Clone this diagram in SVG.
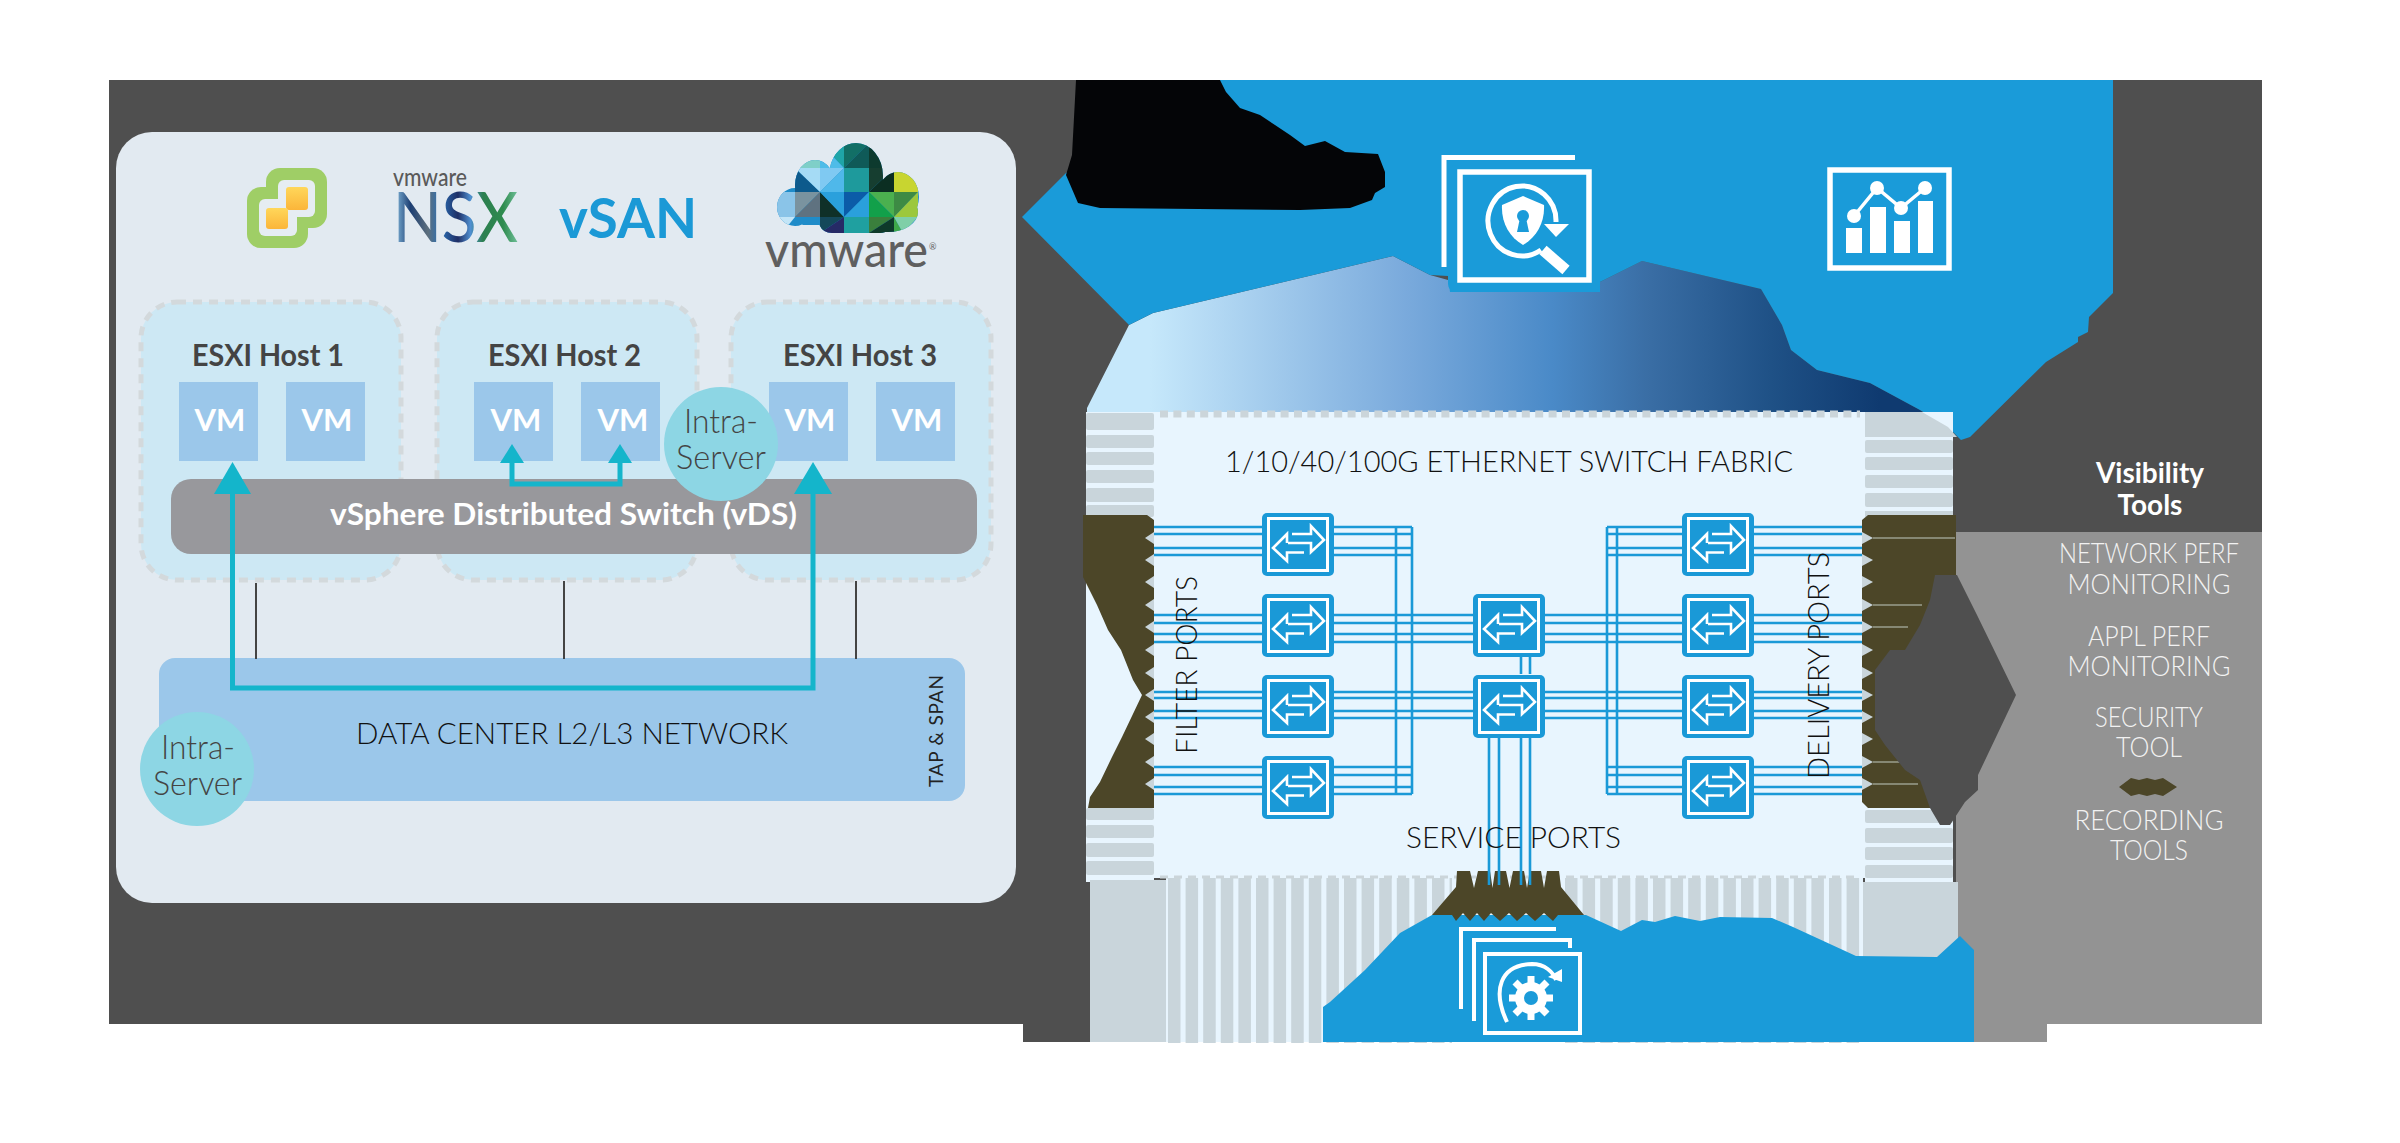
<svg xmlns="http://www.w3.org/2000/svg" xmlns:xlink="http://www.w3.org/1999/xlink" width="2400" height="1143" viewBox="0 0 2400 1143">
<style>
text{font-family:"Lato","Liberation Sans",sans-serif}
.host{fill:#cde8f4;stroke:#d3d9dc;stroke-width:5;stroke-dasharray:9 7}
.vm{fill:#9bc7ea}
.vmt{fill:#fff;font-size:31px;font-weight:700;text-anchor:middle}
.ht{fill:#444;font-size:30px;font-weight:700}
.wire{stroke:#14b5cb;stroke-width:5;fill:none}
.head{fill:#14b5cb}
.stub{stroke:#444;stroke-width:2}
.intra{fill:#8dd6e4}
.it{fill:#444;font-size:33px;font-weight:300}
.blk{fill:#111;font-size:30px;font-weight:300}
.lst{fill:#f2f2f2;font-size:28px;font-weight:300;text-anchor:middle}
.rib{fill:#c9d5db}
.br{fill:#4c4628}
.tooth{fill:#c9d5db}
.ln{stroke:#1a99d7;stroke-width:2.6;fill:none}
.sep{stroke:#9a9f8e;stroke-width:1.5}
.swo{fill:#1a99d7}
.swi{fill:#1a99d7;stroke:#fff;stroke-width:3}
.swa{fill:none;stroke:#fff;stroke-width:2.6}
.ic{fill:none;stroke:#fff}
.icf{fill:#fff}
</style>
<defs>
<linearGradient id="fade" gradientUnits="userSpaceOnUse" x1="1150" y1="0" x2="1880" y2="0">
<stop offset="0" stop-color="#c6e8fb"/><stop offset=".35" stop-color="#7aaadc"/><stop offset=".55" stop-color="#4a8ac8"/><stop offset=".68" stop-color="#3a6ea5"/><stop offset=".85" stop-color="#1f5186"/><stop offset="1" stop-color="#0f3a70"/>
</linearGradient>
<linearGradient id="nsx" gradientUnits="userSpaceOnUse" x1="393" y1="0" x2="518" y2="0">
<stop offset="0" stop-color="#8cc4e6"/><stop offset=".14" stop-color="#1d3f73"/><stop offset=".28" stop-color="#5d6f7d"/><stop offset=".38" stop-color="#2a6fb5"/><stop offset=".52" stop-color="#1f2f66"/><stop offset=".62" stop-color="#4f8fd0"/><stop offset=".72" stop-color="#2c7f50"/><stop offset=".88" stop-color="#2e8b4e"/><stop offset="1" stop-color="#70c09a"/>
</linearGradient>
<linearGradient id="yl" x1="0" y1="0" x2="0" y2="1"><stop offset="0" stop-color="#ffd75a"/><stop offset="1" stop-color="#fbb53a"/></linearGradient>
<clipPath id="cloud">
<ellipse cx="856" cy="176" rx="27" ry="33"/><ellipse cx="815" cy="185" rx="20" ry="25"/><ellipse cx="795" cy="207" rx="18" ry="19"/><ellipse cx="898" cy="197" rx="21" ry="25"/><rect x="800" y="190" width="100" height="35" rx="4"/><rect x="818" y="195" width="76" height="38" rx="14"/><ellipse cx="888" cy="212" rx="30" ry="20"/>
</clipPath>
<g id="sw">
<rect class="swo" x="0" y="0" width="72" height="63" rx="5"/>
<rect class="swi" x="6.500" y="5.500" width="59" height="52"/>
<path class="swa" d="M30,21H49V13L62,27 49,39V30H26"/>
<path class="swa" d="M42,39.500H25V48L11,35 25,21V30"/>
</g>
</defs>

<g id="background">
<path fill="#4f4f4f" d="M109,80H2262V1024H2047V1042H1023V1024H109Z"/>
<path fill="#939393" d="M1956,532H2262V1024H2047V1042H1956Z"/>
</g>

<g id="platform-panel">
<rect x="116" y="132" width="900" height="771" rx="36" fill="#e2eaf1"/>
<g id="logo-vcenter">
<rect x="266" y="168" width="61" height="60" rx="14" fill="#9fce66"/>
<rect x="247" y="187" width="61" height="61" rx="14" fill="#9fce66"/>
<rect x="278" y="180" width="37" height="37" rx="6" fill="#e6edf2"/>
<rect x="259" y="199" width="38" height="37" rx="6" fill="#e6edf2"/>
<rect x="286" y="187" width="22" height="23" rx="3" fill="url(#yl)"/>
<rect x="266" y="208" width="22" height="21" rx="3" fill="url(#yl)"/>
</g>
<g id="logo-nsx">
<text x="393" y="186" font-size="25" font-weight="500" fill="#5a5a5a" textLength="74" lengthAdjust="spacingAndGlyphs">vmware</text>
<text x="393" y="242" font-size="70" font-weight="500" fill="url(#nsx)" textLength="125" lengthAdjust="spacingAndGlyphs">NSX</text>
</g>
<text id="logo-vsan" x="559" y="238" font-size="56" font-weight="700" fill="#1b99d6" textLength="138" lengthAdjust="spacingAndGlyphs">vSAN</text>
<g id="logo-vmware">
<g clip-path="url(#cloud)">
<rect x="770" y="140" width="155" height="95" fill="#1f8cc9"/>
<polygon fill="#1fa5a8" points="820,143 844,143 844,168"/><polygon fill="#4fbce8" points="820,143 844,168 820,168"/>
<polygon fill="#126f66" points="844,143 869,143 844,168"/><polygon fill="#0f5a58" points="869,143 869,168 844,168"/>
<polygon fill="#0d3a2e" points="869,143 894,143 894,168 869,168"/>
<polygon fill="#7fcfc8" points="795,143 820,143 820,168 795,168"/>
<polygon fill="#0d5a8c" points="795,168 820,192 795,192"/><polygon fill="#a5dbf5" points="795,168 820,168 820,192"/>
<polygon fill="#7fc9f2" points="820,168 844,168 820,192"/><polygon fill="#4fb8ea" points="844,168 844,192 820,192"/>
<polygon fill="#1e9a9c" points="844,168 869,168 869,192 844,192"/>
<polygon fill="#163e30" points="869,168 894,168 869,192"/><polygon fill="#0b2e22" points="894,168 894,192 869,192"/>
<polygon fill="#c8d530" points="894,168 918,168 918,192 894,192"/>
<polygon fill="#8ac4e8" points="777,192 795,192 795,217 777,217"/>
<polygon fill="#7a939f" points="795,192 820,192 795,217"/><polygon fill="#5f7280" points="820,192 820,217 795,217"/>
<polygon fill="#0f3028" points="820,192 844,217 820,217"/><polygon fill="#2aa0dc" points="820,192 844,192 844,217"/>
<polygon fill="#0b5ca8" points="844,192 869,192 844,217"/><polygon fill="#2aa0dc" points="869,192 869,217 844,217"/>
<polygon fill="#4bb04f" points="869,192 894,192 894,217"/><polygon fill="#12a04a" points="869,192 894,217 869,217"/>
<polygon fill="#3d8b44" points="894,192 918,192 894,217"/><polygon fill="#9cc83c" points="918,192 918,217 894,217"/>
<polygon fill="#c3e5f7" points="777,217 795,217 782,233 777,233"/>
<polygon fill="#14485a" points="820,217 844,217 820,233"/><polygon fill="#262a66" points="844,217 844,233 820,233"/>
<polygon fill="#1fa0a0" points="844,217 869,217 869,233 844,233"/>
<polygon fill="#3a7f3c" points="869,217 894,217 869,233"/><polygon fill="#0e3a2a" points="894,217 894,233 869,233"/>
<polygon fill="#3ea84a" points="894,217 903,233 894,233"/><polygon fill="#7fcfa8" points="894,217 918,217 903,233"/>
</g>
<text x="765" y="267" font-size="49" font-weight="500" fill="#5f5f5f" textLength="163" lengthAdjust="spacingAndGlyphs">vmware</text>
<text x="929" y="250" font-size="9" fill="#5f5f5f">®</text>
</g>
</g>

<g id="host-1"><rect class="host" x="141" y="302" width="260" height="278" rx="36"/><text class="ht" x="192" y="366" textLength="152" lengthAdjust="spacingAndGlyphs">ESXI Host 1</text></g>
<g id="host-2"><rect class="host" x="437" y="302" width="260" height="278" rx="36"/><text class="ht" x="488" y="366" textLength="153" lengthAdjust="spacingAndGlyphs">ESXI Host 2</text></g>
<g id="host-3"><rect class="host" x="731" y="302" width="260" height="278" rx="36"/><text class="ht" x="783" y="366" textLength="154" lengthAdjust="spacingAndGlyphs">ESXI Host 3</text></g>
<g id="vm-1a"><rect class="vm" x="179" y="382" width="79" height="79"/><text class="vmt" x="220" y="431">VM</text></g>
<g id="vm-1b"><rect class="vm" x="286" y="382" width="79" height="79"/><text class="vmt" x="327" y="431">VM</text></g>
<g id="vm-2a"><rect class="vm" x="474" y="382" width="79" height="79"/><text class="vmt" x="516" y="431">VM</text></g>
<g id="vm-2b"><rect class="vm" x="581" y="382" width="79" height="79"/><text class="vmt" x="623" y="431">VM</text></g>
<g id="vm-3a"><rect class="vm" x="769" y="382" width="79" height="79"/><text class="vmt" x="810" y="431">VM</text></g>
<g id="vm-3b"><rect class="vm" x="876" y="382" width="79" height="79"/><text class="vmt" x="917" y="431">VM</text></g>
<g id="vds"><rect x="171" y="479" width="806" height="75" rx="20" fill="#98989c"/><text x="330" y="525" fill="#fff" font-size="31" font-weight="700" textLength="467" lengthAdjust="spacingAndGlyphs">vSphere Distributed Switch (vDS)</text></g>
<g id="dc-network"><rect x="159" y="658" width="806" height="143" rx="16" fill="#9bc7ea"/><text class="blk" x="356" y="744" textLength="432" lengthAdjust="spacingAndGlyphs">DATA CENTER L2/L3 NETWORK</text>
<text transform="translate(943,787) rotate(-90)" fill="#222" font-size="19" textLength="112">TAP &amp; SPAN</text></g>

<g id="left-connectors">
<line class="stub" x1="256" y1="583" x2="256" y2="659"/><line class="stub" x1="564" y1="581" x2="564" y2="659"/><line class="stub" x1="856" y1="581" x2="856" y2="659"/>
<path class="wire" d="M232.500,494V688H813V494"/>
<polygon class="head" points="232.500,462 214,494 251,494"/><polygon class="head" points="813,462 794,494 832,494"/>
<path class="wire" d="M512,463V484H620V463"/>
<polygon class="head" points="512,444 500,463 524,463"/><polygon class="head" points="620,444 608,463 632,463"/>
</g>
<g id="intra-upper"><circle class="intra" cx="721" cy="444" r="57"/><text class="it" x="684" y="433" textLength="74" lengthAdjust="spacingAndGlyphs">Intra-</text><text class="it" x="676" y="469" textLength="90" lengthAdjust="spacingAndGlyphs">Server</text></g>
<g id="intra-lower"><circle class="intra" cx="197" cy="769" r="57"/><text class="it" x="161" y="759" textLength="74" lengthAdjust="spacingAndGlyphs">Intra-</text><text class="it" x="153" y="795" textLength="89" lengthAdjust="spacingAndGlyphs">Server</text></g>

<g id="top-band">
<polygon fill="url(#fade)" points="1129,325 1087,408 1087,414 1925,414 1920,410 1870,383 1817,370 1791,350 1782,325 1761,289 1642,261 1600,282 1448,280 1430,275 1393,256 1153,313"/>
<path fill="#1a9bd9" d="M1220,80H2113V293L2089,317 2088,332 2078,337V342L2046,362 1970,437 1961,440 1948,427 1920,410 1870,383 1817,370 1791,350 1782,325 1761,289 1642,261 1600,282V292H1450L1448,276 1430,275 1393,256 1153,313 1129,325 1022,217 1066,173Z"/>
<path fill="#040507" d="M1076,80H1220L1226,92 1240,108 1260,115 1275,125 1290,135 1305,146 1325,141 1345,152 1378,154 1385,172V187L1375,193 1372,200 1350,208 1300,210 1100,208 1078,203 1066,175 1072,155Z"/>
</g>

<g id="icon-security">
<path class="ic" stroke-width="5" d="M1444,267V157.500H1575"/>
<rect x="1448" y="165" width="152" height="127" rx="8" fill="#1a9bd9"/>
<rect class="ic" stroke-width="5.500" x="1460" y="172" width="129" height="108"/>
<path class="ic" stroke-width="5" d="M1556,222A34,35 0 1 0 1541,250"/>
<polygon class="icf" points="1544,224 1569,224 1556,237"/>
<line class="ic" stroke-width="11" x1="1543" y1="250" x2="1566" y2="270"/>
<path class="icf" d="M1523,196L1544,205C1545,222 1537,237 1523,245 1509,237 1501,222 1502,205Z"/>
<circle cx="1523" cy="216" r="6" fill="#1a9bd9"/><polygon fill="#1a9bd9" points="1520,218 1526,218 1529,232 1517,232"/>
</g>
<g id="icon-analytics">
<rect class="ic" stroke-width="5.500" x="1830" y="170" width="119" height="98"/>
<rect class="icf" x="1846" y="228" width="16" height="25"/><rect class="icf" x="1870" y="207" width="16" height="46"/><rect class="icf" x="1894" y="221" width="16" height="32"/><rect class="icf" x="1918" y="201" width="15" height="52"/>
<polyline class="ic" stroke-width="3.500" points="1854,216 1877,188 1901,208 1925,188"/>
<circle class="icf" cx="1854" cy="216" r="7"/><circle class="icf" cx="1877" cy="188" r="7"/><circle class="icf" cx="1901" cy="208" r="7"/><circle class="icf" cx="1925" cy="188" r="7"/>
</g>

<g id="fabric">
<rect x="1086" y="412" width="68" height="470" fill="#e8f5fe"/>
<rect x="1865" y="412" width="88" height="470" fill="#e8f5fe"/>
<rect x="1086" y="413" width="68" height="17" rx="2" class="rib"/><rect x="1086" y="435" width="68" height="13" rx="2" class="rib"/><rect x="1086" y="452" width="68" height="13" rx="2" class="rib"/><rect x="1086" y="470" width="68" height="13" rx="2" class="rib"/><rect x="1086" y="488" width="68" height="14" rx="2" class="rib"/><rect x="1086" y="505" width="68" height="12" rx="2" class="rib"/>
<rect x="1086" y="808" width="68" height="12" rx="2" class="rib"/><rect x="1086" y="825" width="68" height="13" rx="2" class="rib"/><rect x="1086" y="843" width="68" height="14" rx="2" class="rib"/><rect x="1086" y="861" width="68" height="14" rx="2" class="rib"/>
<polygon class="rib" points="1090,880 1166,880 1166,1042 1090,1042"/>
<polygon class="rib" points="1852,412 1922,412 1948,427 1957,437 1865,437"/>
<rect x="1865" y="440" width="88" height="13" rx="2" class="rib"/><rect x="1865" y="457" width="88" height="13" rx="2" class="rib"/><rect x="1865" y="475" width="88" height="13" rx="2" class="rib"/><rect x="1865" y="493" width="88" height="14" rx="2" class="rib"/><rect x="1865" y="511" width="88" height="6" class="rib"/>
<rect x="1865" y="810" width="88" height="13" rx="2" class="rib"/><rect x="1865" y="828" width="88" height="15" rx="2" class="rib"/><rect x="1865" y="847" width="88" height="13" rx="2" class="rib"/><rect x="1865" y="865" width="88" height="13" rx="2" class="rib"/>
<polygon class="rib" points="1863,882 1958,882 1958,957 1863,957"/>
<rect x="1166" y="877" width="697" height="165" fill="#e8f5fe"/>
<line x1="1168" y1="960" x2="1452" y2="960" stroke="#c9d5db" stroke-width="166" stroke-dasharray="12.500 5.100"/>
<line x1="1565" y1="960" x2="1863" y2="960" stroke="#c9d5db" stroke-width="166" stroke-dasharray="12.500 5.100"/>
<rect x="1154" y="412" width="711" height="466" fill="#e8f5fe"/>
<line x1="1160" y1="414" x2="1860" y2="414" stroke="#cbd5da" stroke-width="7" stroke-dasharray="8 5.400"/>
<line x1="1160" y1="877" x2="1860" y2="877" stroke="#cbd5da" stroke-width="3" stroke-dasharray="8 6"/>
<path class="br" d="M1083,515H1147L1154,520V808H1088L1090,797 1100,782 1112,757 1122,737 1142,695 1133,680 1121,650 1108,630 1097,605 1083,577Z"/>
<path class="br" d="M1862,520L1868,515H1956V808H1868L1862,802Z"/>
<polygon class="tooth" points="1154,532 1145,538 1154,544"/><polygon class="tooth" points="1154,554 1145,560 1154,566"/><polygon class="tooth" points="1154,576 1145,582 1154,588"/><polygon class="tooth" points="1154,599 1145,605 1154,611"/><polygon class="tooth" points="1154,621 1145,627 1154,633"/><polygon class="tooth" points="1154,644 1145,650 1154,656"/><polygon class="tooth" points="1154,667 1145,673 1154,679"/><polygon class="tooth" points="1154,689 1145,695 1154,701"/><polygon class="tooth" points="1154,711 1145,717 1154,723"/><polygon class="tooth" points="1154,733 1145,739 1154,745"/><polygon class="tooth" points="1154,756 1145,762 1154,768"/><polygon class="tooth" points="1154,778 1145,784 1154,790"/>
<polygon class="tooth" points="1862,532 1873,538 1862,544"/><polygon class="tooth" points="1862,554 1873,560 1862,566"/><polygon class="tooth" points="1862,576 1873,582 1862,588"/><polygon class="tooth" points="1862,599 1873,605 1862,611"/><polygon class="tooth" points="1862,621 1873,627 1862,633"/><polygon class="tooth" points="1862,644 1873,650 1862,656"/><polygon class="tooth" points="1862,667 1873,673 1862,679"/><polygon class="tooth" points="1862,689 1873,695 1862,701"/><polygon class="tooth" points="1862,711 1873,717 1862,723"/><polygon class="tooth" points="1862,733 1873,739 1862,745"/><polygon class="tooth" points="1862,756 1873,762 1862,768"/><polygon class="tooth" points="1862,778 1873,784 1862,790"/>
<line class="sep" x1="1873" y1="538" x2="1955" y2="538"/><line class="sep" x1="1873" y1="605" x2="1922" y2="605"/><line class="sep" x1="1873" y1="627" x2="1908" y2="627"/><line class="sep" x1="1873" y1="762" x2="1905" y2="762"/><line class="sep" x1="1873" y1="784" x2="1918" y2="784"/>
<path fill="#4f4f4f" d="M1935,575H1957L1977,615 2016,695 1978,775V790L1965,802 1950,825H1940L1930,808 1920,780 1905,770 1885,745 1875,730V670L1890,650 1905,650 1920,625 1930,600Z"/>
</g>

<g id="bottom-band">
<path fill="#1a9bd9" d="M1323,1042V1007L1330,1002 1365,970 1400,933 1432,915H1586L1621,931 1642,920 1655,922 1675,916 1700,921 1720,917 1772,918 1793,927 1856,956 1937,957 1960,936 1974,950V1042Z"/>
<path class="br" d="M1457,871H1470L1474,888 1478,871H1490L1492.500,888 1495,871H1506L1509.500,888 1513,871H1524L1527,888 1530,871H1541L1544,888 1547,871H1559L1561,887 1584,915H1558L1553,921 1544,913 1535,921 1526,913 1517,921 1509,913 1500,921 1491,913 1484,921 1477,913 1470,921 1463,913 1456,921 1452,915H1432L1456,887Z"/>
</g>
<g id="icon-service">
<path class="ic" stroke-width="4" d="M1461,1009V929H1556"/>
<path class="ic" stroke-width="4" d="M1474,1021V940H1570V948"/>
<rect class="ic" stroke-width="4" x="1485" y="954" width="95" height="79"/>
<path class="ic" stroke-width="4" d="M1507,1022C1492,990 1500,965 1532,964 1545,964 1553,972 1556,980"/>
<polygon class="icf" points="1548,977 1562,969 1562,982"/>
<g stroke="#fff" stroke-width="7"><line x1="1531" y1="976" x2="1531" y2="1020"/><line x1="1509" y1="998" x2="1553" y2="998"/><line x1="1515" y1="982" x2="1547" y2="1014"/><line x1="1547" y1="982" x2="1515" y2="1014"/></g>
<circle class="icf" cx="1531" cy="998" r="16"/><circle cx="1531" cy="998" r="7" fill="#1a9bd9"/>
</g>

<g id="links">
<path class="ln" d="M1154,527H1412M1154,534H1412M1154,548H1412M1154,555H1412M1154,767H1412M1154,775H1412M1154,787H1412M1154,794H1412M1396,527V794M1412,527V794"/>
<path class="ln" d="M1607,527H1862M1607,534H1862M1607,548H1862M1607,555H1862M1607,767H1862M1607,775H1862M1607,787H1862M1607,794H1862M1607,527V794M1617,527V794"/>
<path class="ln" d="M1154,615H1862M1154,623H1862M1154,634H1862M1154,642H1862M1154,692H1862M1154,698H1862M1154,711H1862M1154,718H1862"/>
<path class="ln" d="M1521,657V674M1530,657V674M1489,737V885M1499,737V885M1521,737V885M1530,737V885"/>
</g>
<g id="sw-1-1"><use xlink:href="#sw" href="#sw" x="1262" y="513"/></g>
<g id="sw-1-2"><use xlink:href="#sw" href="#sw" x="1262" y="594"/></g>
<g id="sw-1-3"><use xlink:href="#sw" href="#sw" x="1262" y="675"/></g>
<g id="sw-1-4"><use xlink:href="#sw" href="#sw" x="1262" y="756"/></g>
<g id="sw-2-2"><use xlink:href="#sw" href="#sw" x="1473" y="594"/></g>
<g id="sw-2-3"><use xlink:href="#sw" href="#sw" x="1473" y="675"/></g>
<g id="sw-3-1"><use xlink:href="#sw" href="#sw" x="1682" y="513"/></g>
<g id="sw-3-2"><use xlink:href="#sw" href="#sw" x="1682" y="594"/></g>
<g id="sw-3-3"><use xlink:href="#sw" href="#sw" x="1682" y="675"/></g>
<g id="sw-3-4"><use xlink:href="#sw" href="#sw" x="1682" y="756"/></g>

<g id="fabric-labels">
<text class="blk" x="1225" y="472" textLength="568" lengthAdjust="spacingAndGlyphs">1/10/40/100G ETHERNET SWITCH FABRIC</text>
<text class="blk" transform="translate(1197,754) rotate(-90)" textLength="178" lengthAdjust="spacingAndGlyphs">FILTER PORTS</text>
<text class="blk" transform="translate(1829,779) rotate(-90)" textLength="227" lengthAdjust="spacingAndGlyphs">DELIVERY PORTS</text>
<text class="blk" x="1406" y="848" textLength="215" lengthAdjust="spacingAndGlyphs">SERVICE PORTS</text>
</g>

<g id="tools">
<text x="2150" y="483" fill="#fff" font-size="28" font-weight="700" text-anchor="middle">Visibility</text>
<text x="2150" y="515" fill="#fff" font-size="28" font-weight="700" text-anchor="middle">Tools</text>
<text class="lst" x="2149" y="563" textLength="180" lengthAdjust="spacingAndGlyphs">NETWORK PERF</text>
<text class="lst" x="2149" y="594" textLength="163" lengthAdjust="spacingAndGlyphs">MONITORING</text>
<text class="lst" x="2149" y="646" textLength="122" lengthAdjust="spacingAndGlyphs">APPL PERF</text>
<text class="lst" x="2149" y="676" textLength="163" lengthAdjust="spacingAndGlyphs">MONITORING</text>
<text class="lst" x="2149" y="727" textLength="108" lengthAdjust="spacingAndGlyphs">SECURITY</text>
<text class="lst" x="2149" y="757" textLength="66" lengthAdjust="spacingAndGlyphs">TOOL</text>
<polygon class="br" points="2119,787 2131,778 2139,780 2147,778 2155,780 2163,778 2177,787 2163,796 2155,794 2147,796 2139,794 2131,796"/>
<text class="lst" x="2149" y="830" textLength="149" lengthAdjust="spacingAndGlyphs">RECORDING</text>
<text class="lst" x="2149" y="860" textLength="78" lengthAdjust="spacingAndGlyphs">TOOLS</text>
</g>
</svg>
